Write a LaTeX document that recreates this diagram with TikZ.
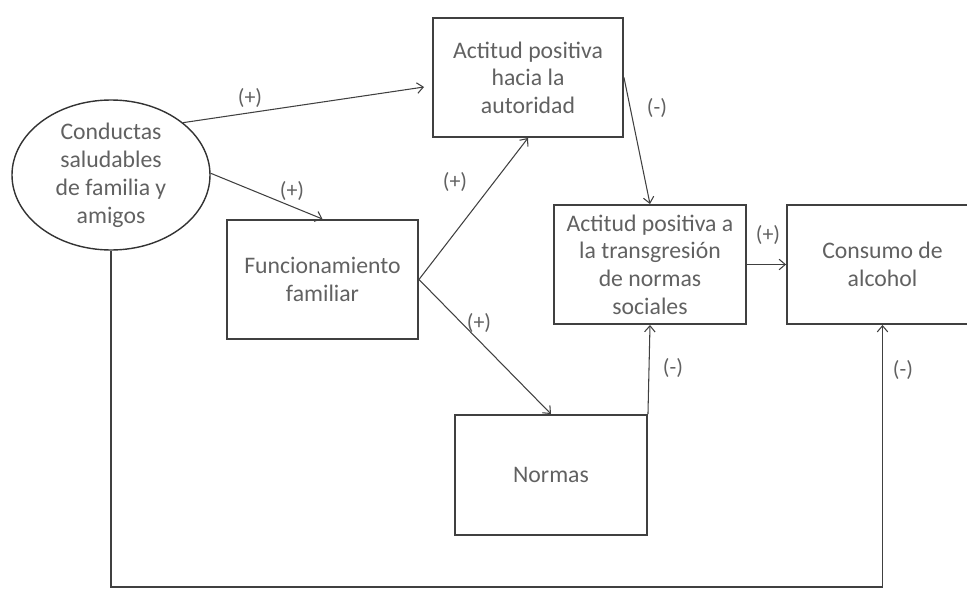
\documentclass[tikz,border=0pt]{standalone}
\usepackage{fontspec}
\setmainfont{Carlito}
\usepackage{tikz}
\usetikzlibrary{arrows.meta}
\usetikzlibrary{shapes.geometric}

\tikzset{
    caja/.style = {draw = black!75, line width = 1.1pt, rectangle, align = center,
        minimum width = 3.82cm, minimum height = 2.38cm, inner sep = 2pt,
        text = black!62, font = \fontsize{13.5}{15.7}\selectfont},
    elipse/.style = {draw = black!80, line width = 0.8pt, ellipse, align = center,
        minimum width = 3.96cm, minimum height = 3cm, inner sep = 0pt,
        text = black!62, font = \fontsize{13.5}{15.9}\selectfont},
    signo/.style = {text = black!62, font = \fontsize{12.5}{14}\selectfont},
    flecha/.style = {draw = black!75, line width = 0.6pt, ->}
}

\begin{document}
\begin{tikzpicture}[>={Straight Barb[length=3.5pt,width=6pt]}]
        \useasboundingbox (0, 0) rectangle (19.34, -11.78);
        \node [elipse] (elip) at (2.22, -3.5) {Conductas\\saludables\\de familia y\\amigos};
        \node [caja, minimum width = 3.8cm] (aut) at (10.56, -1.55) {Actitud positiva\\hacia la\\autoridad};
        \node [caja] (fun) at (6.45, -5.59) {Funcionamiento\\familiar};
        \node [caja, minimum width = 3.84cm] (tra) at (13.0, -5.29) {Actitud positiva a\\la transgresión\\de normas\\sociales};
        \node [caja] (cons) at (17.65, -5.29) {Consumo de\\alcohol};
        \node [caja, minimum width = 3.84cm, minimum height = 2.4cm] (nor) at (11.02, -9.5) {Normas};
        \coordinate (bot) at (0, -11.74);

        \draw [flecha] (elip.36) -- ([xshift=-0.16cm, yshift=-0.19cm]aut.west);
        \draw [flecha] (elip.1) -- (fun.north);
        \draw [flecha] (fun.east) -- (aut.south);
        \draw [flecha] (fun.east) -- (nor.north);
        \draw [flecha] (aut.east) -- (tra.north);
        \draw [flecha] (tra.east) -- (cons.west);
        \draw [flecha] (nor.north east) -- (tra.south);
        \draw [flecha] (elip.south) -- (elip.south |- bot) -- (cons.south |- bot) -- (cons.south);

        \node [signo] (s1) at (5.0, -1.96) {(+)};
        \node [signo] (s2) at (5.84, -3.82) {(+)};
        \node [signo] (s3) at (9.1, -3.64) {(+)};
        \node [signo] (s4) at (9.58, -6.46) {(+)};
        \node [signo] (s5) at (13.14, -2.16) {(-)};
        \node [signo] (s6) at (15.36, -4.7) {(+)};
        \node [signo] (s7) at (13.46, -7.36) {(-)};
        \node [signo] (s8) at (18.06, -7.4) {(-)};
    \end{tikzpicture}
\end{document}
